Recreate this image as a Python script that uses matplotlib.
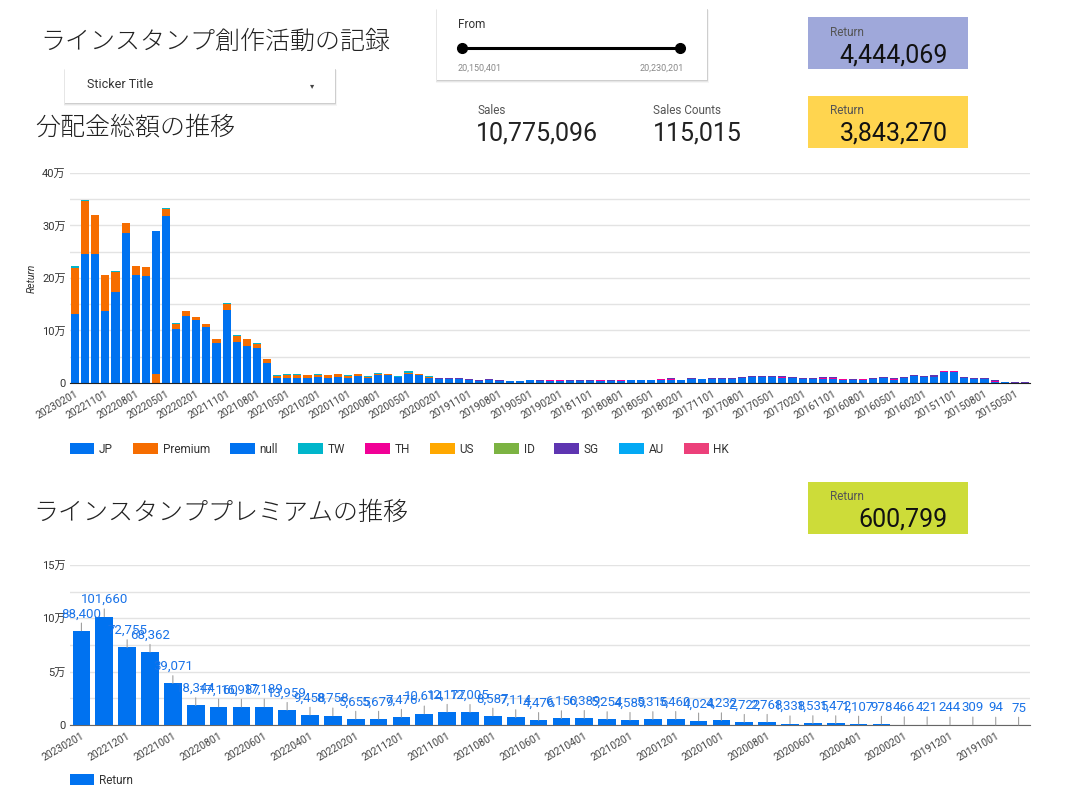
import matplotlib.pyplot as plt
import matplotlib.patches as mpatches
from matplotlib.ticker import FuncFormatter, MultipleLocator
import numpy as np
import pandas as pd

plt.rcParams['font.family'] = ['Roboto', 'Noto Sans CJK JP', 'DejaVu Sans']

# months shown, newest first
months = pd.period_range(end="2023-02", periods=95, freq="M")[::-1]
month_labels = [f"{p.year}{p.month:02d}01" for p in months]

# 分配金 (yen) per month, stacked series
jp = [131400, 245700, 246300, 136500, 173300, 285700, 205700, 203800, 0, 317500,
      103500, 128300, 119400, 106000, 76200, 139700, 78100, 71100, 66000, 38100,
      9500, 9500, 9500, 9500, 11400, 9500, 11400, 9500, 12700, 9500,
      14600, 15200, 10800, 17800, 15200, 10000, 7000, 7000, 7000, 5000,
      4000, 5000, 4000, 4000, 4000, 5000, 4000, 4500, 4500, 4000,
      4000, 4500, 4500, 4000, 4500, 5000, 5000, 5000, 6400, 6400,
      5000, 7700, 7700, 7700, 7700, 7700, 10000, 11500, 11500, 11500,
      10000, 10000, 7700, 7700, 7700, 7700, 6400, 5000, 6400, 7700,
      10000, 6400, 9000, 13500, 11500, 11500, 21800, 21800, 9000, 7700,
      7700, 2500, 1000, 500, 500]

# premium return (bottom chart), 202302 -> 201909
premium = [88400, 101660, 72755, 68362, 39071, 18344, 17160, 16987, 17189, 13959,
           9458, 8758, 5655, 5679, 7476, 10614, 12177, 12005, 8587, 7114,
           4476, 6150, 6389, 5254, 4589, 5316, 5460, 4024, 4232, 2722,
           2768, 1338, 1535, 1472, 1107, 978, 466, 421, 244, 309, 94, 75]
premium_all = premium + [0] * (95 - len(premium))

null_vals = [0] * 8 + [272000] + [0] * 86

tw = [3000, 2000, 1500, 1000, 1500, 1000, 500, 1000, 1000, 1000,
      1000, 1000, 1000, 1000, 1000, 1500, 1000, 1000, 1000, 1000,
      1200, 1000, 2000, 1000, 1800, 1200, 1000, 1500, 1000, 1800,
      1000, 1300, 1700, 2900, 1500, 3000] + [0] * 59
th = [0] * 36 + [500, 500, 600, 500, 500, 600, 500, 200, 200, 300,
                 300, 300, 300, 300, 300, 200, 300, 300, 300, 300,
                 300, 300, 300, 500, 300, 300, 200, 300, 300, 300,
                 400, 400, 500, 500, 700, 400, 400, 500, 900, 900,
                 400, 400, 300, 500, 400, 700, 600, 500, 500, 700,
                 400, 400, 400, 300, 300, 500, 300, 100, 200]
sg = [0] * 36 + [2000, 2100, 2200, 2200, 1700, 2300, 1700, 500, 500, 1000,
                 1000, 900, 900, 1200, 1200, 800, 1200, 900, 900, 900,
                 1100, 1100, 1000, 2100, 1100, 1000, 400, 1000, 1000, 1000,
                 1600, 1600, 2000, 2000, 2800, 1600, 1500, 1800, 3400, 3400,
                 1500, 1600, 1000, 1800, 1600, 2500, 2400, 2000, 2000, 2500,
                 1500, 1500, 1600, 1000, 1000, 2000, 1200, 400, 800]
us = [0] * 95
id_ = [0] * 95
au = [0] * 95
hk = [0] * 95

series = [("JP", jp, "#0072f0"), ("Premium", premium_all, "#f66d00"),
          ("null", null_vals, "#0072f0"), ("TW", tw, "#00b6cb"),
          ("TH", th, "#f10096"), ("US", us, "#ffa800"), ("ID", id_, "#7cb342"),
          ("SG", sg, "#5e35b1"), ("AU", au, "#03a9f4"), ("HK", hk, "#ec407a")]

W, H = 1073, 802
fig = plt.figure(figsize=(W / 100, H / 100), dpi=100)

# background layer in pixel coords for titles / controls / scorecards
bg = fig.add_axes([0, 0, 1, 1])
bg.set_xlim(0, W)
bg.set_ylim(H, 0)
bg.axis('off')


def card(x, y, w, h):
    for d, a in [(3, 0.04), (2, 0.06), (1, 0.10)]:
        bg.add_patch(mpatches.Rectangle((x - d / 2, y + d / 2), w + d, h + d / 2,
                                        color='black', alpha=a, lw=0))
    bg.add_patch(mpatches.Rectangle((x, y), w, h, color='white', lw=0))


jp_font = ['Noto Sans CJK JP', 'DejaVu Sans']
bg.text(40, 42, "ラインスタンプ創作活動の記録", fontsize=18, va='center',
        family=jp_font, fontweight='light', color='#222222')
bg.text(35, 127, "分配金総額の推移", fontsize=18, va='center',
        family=jp_font, fontweight='light', color='#222222')
bg.text(33, 513, "ラインスタンププレミアムの推移", fontsize=18, va='center',
        family=jp_font, fontweight='light', color='#222222')

# dropdown
card(65, 68, 270, 35)
bg.text(87, 85, "Sticker Title", fontsize=9, va='center', color='#333333')
bg.text(312, 86, "▾", fontsize=6, va='center', ha='center', color='#444444',
        family=['DejaVu Sans'])

# slider
card(437, 8, 270, 72)
bg.text(458, 24, "From", fontsize=8.5, va='center', color='#333333')
bg.plot([462, 680], [48, 48], color='black', lw=2.2, solid_capstyle='butt')
bg.plot([462, 680], [48, 48], 'o', color='black', ms=7)
bg.text(458, 68, "20,150,401", fontsize=6.5, va='center', color='#888888')
bg.text(684, 68, "20,230,201", fontsize=6.5, va='center', ha='right', color='#888888')

# scorecards
bg.text(478, 111, "Sales", fontsize=8.5, va='center', color='#555555')
bg.text(476, 134, "10,775,096", fontsize=18, va='center', color='#222222')
bg.text(653, 111, "Sales Counts", fontsize=8.5, va='center', color='#555555')
bg.text(653, 134, "115,015", fontsize=18, va='center', color='#222222')

for (y0, col, val) in [(17, '#9fa8da', "4,444,069"), (96, '#ffd54f', "3,843,270"),
                       (482, '#cddc39', "600,799")]:
    bg.add_patch(mpatches.Rectangle((808, y0), 160, 52, color=col, lw=0))
    bg.text(830, y0 + 15, "Return", fontsize=8.5, va='center', color='#555555')
    bg.text(948, y0 + 38, val, fontsize=18, va='center', ha='right', color='#111111')


def wan(v, pos):
    return "0" if v == 0 else f"{int(round(v / 10000))}万"


# top stacked chart
ax1 = fig.add_axes([70 / W, 1 - 383 / H, 960 / W, 210 / H])
x = np.arange(len(month_labels))
bottom = np.zeros(len(x))
handles = []
for name, vals, col in series:
    vals = np.array(vals, dtype=float)
    b = ax1.bar(x, vals, bottom=bottom, width=0.8, color=col, label=name, zorder=3)
    handles.append(b)
    bottom += vals

ax1.set_xlim(-0.5, len(x) - 0.5)
ax1.set_ylim(0, 400000)
ax1.yaxis.set_major_locator(MultipleLocator(100000))
ax1.yaxis.set_minor_locator(MultipleLocator(50000))
ax1.yaxis.set_major_formatter(FuncFormatter(wan))
ax1.grid(axis='y', which='both', color='#e3e3e3', lw=1, zorder=0)
ax1.set_xticks(x[::3])
ax1.set_xticklabels(month_labels[::3], rotation=30, ha='right', rotation_mode='anchor',
                    fontsize=7.5, color='#444444')
ax1.tick_params(axis='both', which='both', length=0)
ax1.tick_params(axis='y', labelsize=8, labelcolor='#333333', pad=3)
ax1.tick_params(axis='x', pad=4)
for s in ['top', 'right', 'left']:
    ax1.spines[s].set_visible(False)
ax1.spines['bottom'].set_color('#222222')
ax1.spines['bottom'].set_zorder(4)
ax1.set_ylabel("Return", fontsize=7.5, style='italic', color='#333333', labelpad=4)

fig.legend(handles=handles, loc='center left', bbox_to_anchor=(59 / W, 1 - 449 / H),
           ncol=10, frameon=False, fontsize=8.5, handlelength=2.1, handleheight=1.0,
           handletextpad=0.4, columnspacing=1.7, labelcolor='#333333')

# bottom premium chart
ax2 = fig.add_axes([70 / W, 1 - 725 / H, 960 / W, 160 / H])
x2 = np.arange(len(premium))
b2 = ax2.bar(x2, premium, width=0.77, color='#0072f0', label="Return", zorder=3)
for i, v in enumerate(premium):
    ax2.annotate(f"{v:,}", (i, v), xytext=(0, 7.5), textcoords='offset points',
                 ha='center', va='bottom', fontsize=9.5, color='#1a73e8', zorder=5,
                 arrowprops=dict(arrowstyle='-', color='#a0a0a0', lw=0.8,
                                 shrinkA=0, shrinkB=0))
ax2.set_xlim(-0.5, len(premium) - 0.5)
ax2.set_ylim(0, 150000)
ax2.yaxis.set_major_locator(MultipleLocator(50000))
ax2.yaxis.set_minor_locator(MultipleLocator(25000))
ax2.yaxis.set_major_formatter(FuncFormatter(wan))
ax2.grid(axis='y', which='both', color='#e3e3e3', lw=1, zorder=0)
ax2.set_xticks(x2[::2])
ax2.set_xticklabels(month_labels[:len(premium):2], rotation=30, ha='right',
                    rotation_mode='anchor', fontsize=7.5, color='#444444')
ax2.tick_params(axis='both', which='both', length=0)
ax2.tick_params(axis='y', labelsize=8, labelcolor='#333333', pad=3)
ax2.tick_params(axis='x', pad=4)
for s in ['top', 'right', 'left']:
    ax2.spines[s].set_visible(False)
ax2.spines['bottom'].set_color('#666666')

fig.legend(handles=[b2], loc='center left', bbox_to_anchor=(59 / W, 1 - 780 / H),
           frameon=False, fontsize=8.5, handlelength=2.1, handleheight=1.0,
           handletextpad=0.4, labelcolor='#333333')

fig.savefig("out.png", dpi=100)
